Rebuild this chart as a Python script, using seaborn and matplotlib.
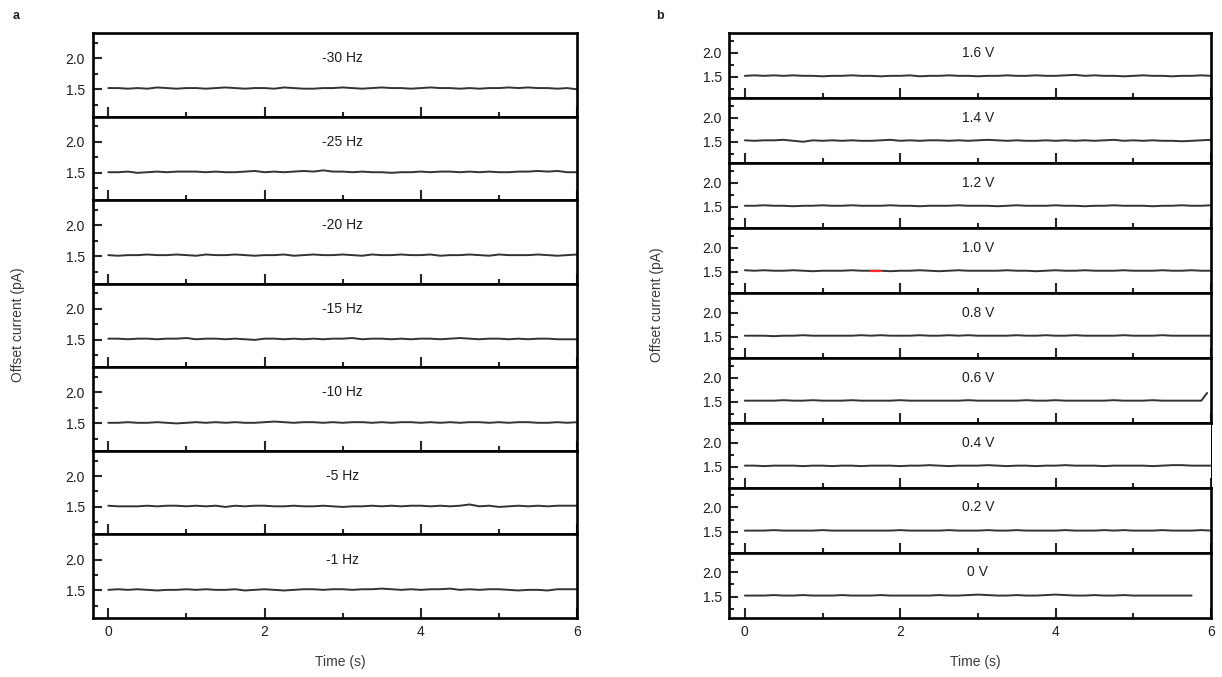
import numpy as np
import pandas as pd
import matplotlib
matplotlib.use("Agg")
import matplotlib.pyplot as plt
from matplotlib.ticker import MultipleLocator
import seaborn as sns

sns.set_theme(style="ticks")
plt.rcParams["font.family"] = ["Liberation Sans", "DejaVu Sans"]

# sampling grid of the recordings (s)
TIME = np.arange(49) * 0.125

# ---- panel a: frequency series ----
freq_labels = ["-30 Hz", "-25 Hz", "-20 Hz", "-15 Hz", "-10 Hz", "-5 Hz", "-1 Hz"]
a_m30 = [1.52,1.52,1.51,1.52,1.51,1.53,1.52,1.51,1.52,1.52,1.51,1.52,1.53,1.52,1.51,1.52,1.52,1.51,1.53,1.52,1.51,1.51,1.52,1.52,1.53,1.52,1.51,1.52,1.53,1.52,1.52,1.51,1.52,1.53,1.52,1.52,1.51,1.52,1.51,1.52,1.52,1.53,1.52,1.53,1.52,1.52,1.51,1.52,1.50]
a_m25 = [1.51,1.51,1.52,1.50,1.51,1.52,1.51,1.52,1.52,1.52,1.51,1.52,1.51,1.51,1.52,1.53,1.51,1.52,1.51,1.52,1.53,1.52,1.54,1.52,1.52,1.51,1.52,1.51,1.51,1.50,1.51,1.51,1.52,1.51,1.52,1.52,1.51,1.52,1.51,1.52,1.51,1.51,1.52,1.52,1.53,1.52,1.53,1.51,1.51]
a_m20 = [1.52,1.51,1.52,1.52,1.53,1.52,1.52,1.53,1.52,1.51,1.53,1.52,1.52,1.53,1.52,1.51,1.52,1.52,1.53,1.51,1.52,1.53,1.52,1.52,1.53,1.52,1.51,1.53,1.52,1.52,1.53,1.52,1.52,1.53,1.51,1.52,1.52,1.53,1.52,1.51,1.53,1.52,1.52,1.52,1.53,1.52,1.51,1.52,1.53]
a_m15 = [1.52,1.52,1.51,1.52,1.52,1.51,1.52,1.52,1.53,1.51,1.52,1.52,1.51,1.52,1.51,1.50,1.52,1.52,1.51,1.52,1.51,1.52,1.51,1.52,1.52,1.53,1.51,1.52,1.52,1.51,1.52,1.51,1.52,1.52,1.51,1.52,1.53,1.52,1.51,1.52,1.52,1.51,1.52,1.51,1.52,1.52,1.51,1.51,1.51]
a_m10 = [1.51,1.51,1.52,1.51,1.51,1.52,1.51,1.50,1.51,1.52,1.51,1.52,1.51,1.52,1.51,1.51,1.52,1.53,1.52,1.51,1.52,1.52,1.51,1.52,1.51,1.52,1.52,1.51,1.52,1.51,1.52,1.52,1.51,1.52,1.51,1.52,1.51,1.52,1.52,1.51,1.52,1.51,1.52,1.52,1.51,1.51,1.52,1.51,1.52]
a_m5 = [1.52,1.51,1.51,1.51,1.52,1.51,1.52,1.52,1.51,1.52,1.51,1.52,1.50,1.52,1.51,1.52,1.52,1.51,1.51,1.52,1.51,1.51,1.52,1.51,1.50,1.51,1.51,1.52,1.51,1.52,1.51,1.52,1.52,1.51,1.52,1.51,1.52,1.54,1.51,1.52,1.50,1.51,1.52,1.51,1.52,1.51,1.52,1.52,1.52]
a_m1 = [1.51,1.52,1.51,1.52,1.51,1.50,1.51,1.51,1.52,1.51,1.52,1.51,1.51,1.52,1.50,1.51,1.52,1.51,1.50,1.51,1.52,1.52,1.51,1.52,1.52,1.51,1.52,1.52,1.53,1.52,1.51,1.52,1.51,1.52,1.52,1.53,1.51,1.52,1.51,1.52,1.52,1.51,1.50,1.51,1.51,1.50,1.52,1.52,1.52]
freq_traces = [a_m30, a_m25, a_m20, a_m15, a_m10, a_m5, a_m1]

# ---- panel b: voltage series ----
volt_labels = ["1.6 V", "1.4 V", "1.2 V", "1.0 V", "0.8 V", "0.6 V", "0.4 V", "0.2 V", "0 V"]
b_16 = [1.52,1.53,1.52,1.53,1.52,1.53,1.52,1.52,1.51,1.52,1.52,1.53,1.52,1.52,1.51,1.52,1.52,1.53,1.51,1.52,1.52,1.53,1.52,1.52,1.51,1.52,1.52,1.53,1.52,1.52,1.53,1.52,1.52,1.53,1.54,1.52,1.53,1.52,1.52,1.51,1.52,1.53,1.52,1.52,1.51,1.52,1.52,1.53,1.52]
b_14 = [1.53,1.52,1.53,1.53,1.54,1.52,1.50,1.53,1.52,1.53,1.52,1.53,1.52,1.52,1.53,1.54,1.52,1.53,1.52,1.53,1.53,1.52,1.53,1.52,1.53,1.54,1.53,1.52,1.53,1.52,1.52,1.53,1.52,1.53,1.52,1.53,1.52,1.53,1.54,1.52,1.53,1.52,1.53,1.52,1.52,1.51,1.52,1.53,1.54]
b_12 = [1.52,1.52,1.53,1.52,1.52,1.51,1.52,1.52,1.53,1.52,1.52,1.53,1.52,1.52,1.52,1.53,1.52,1.52,1.51,1.52,1.52,1.52,1.53,1.52,1.52,1.52,1.51,1.52,1.53,1.52,1.52,1.52,1.53,1.52,1.52,1.51,1.52,1.52,1.53,1.52,1.52,1.52,1.51,1.52,1.52,1.53,1.52,1.52,1.53]
b_10 = [1.53,1.52,1.53,1.52,1.52,1.53,1.52,1.51,1.52,1.52,1.52,1.53,1.52,1.52,1.52,1.51,1.52,1.52,1.53,1.52,1.51,1.52,1.53,1.52,1.52,1.52,1.52,1.53,1.52,1.52,1.51,1.52,1.53,1.52,1.52,1.53,1.52,1.52,1.52,1.53,1.52,1.52,1.52,1.53,1.52,1.52,1.53,1.52,1.52]
b_08 = [1.52,1.52,1.52,1.51,1.52,1.52,1.53,1.52,1.52,1.52,1.52,1.52,1.53,1.52,1.53,1.52,1.52,1.52,1.53,1.52,1.52,1.53,1.52,1.53,1.52,1.52,1.52,1.52,1.53,1.52,1.52,1.53,1.52,1.52,1.53,1.52,1.52,1.52,1.52,1.53,1.52,1.52,1.52,1.53,1.52,1.52,1.52,1.52,1.52]
b_06 = [1.52,1.52,1.52,1.52,1.53,1.52,1.52,1.53,1.52,1.52,1.52,1.53,1.52,1.52,1.52,1.52,1.53,1.52,1.52,1.52,1.52,1.52,1.52,1.53,1.52,1.52,1.52,1.52,1.52,1.53,1.52,1.52,1.53,1.52,1.52,1.52,1.52,1.52,1.53,1.52,1.52,1.52,1.53,1.52,1.52,1.52,1.52,1.52]
b_06_tail_t = [5.95]
b_06_tail_v = [1.68]
b_04 = [1.52,1.52,1.51,1.52,1.52,1.52,1.51,1.52,1.52,1.51,1.52,1.52,1.51,1.52,1.52,1.52,1.51,1.52,1.52,1.53,1.52,1.51,1.52,1.52,1.52,1.53,1.52,1.51,1.52,1.52,1.51,1.52,1.52,1.53,1.52,1.52,1.52,1.51,1.52,1.52,1.52,1.52,1.51,1.52,1.53,1.53,1.52,1.52,1.52]
b_02 = [1.52,1.52,1.52,1.53,1.52,1.52,1.52,1.52,1.53,1.52,1.52,1.52,1.52,1.52,1.52,1.52,1.53,1.52,1.52,1.52,1.52,1.53,1.52,1.52,1.52,1.53,1.52,1.52,1.53,1.52,1.52,1.52,1.52,1.53,1.52,1.52,1.52,1.53,1.52,1.53,1.52,1.52,1.52,1.53,1.52,1.52,1.52,1.53,1.52]
b_00 = [1.52,1.52,1.52,1.53,1.52,1.52,1.53,1.52,1.52,1.52,1.53,1.52,1.52,1.52,1.53,1.52,1.52,1.52,1.52,1.52,1.53,1.52,1.52,1.53,1.54,1.53,1.52,1.52,1.53,1.52,1.52,1.53,1.54,1.53,1.52,1.52,1.53,1.52,1.52,1.53,1.52,1.52,1.52,1.52,1.52,1.52,1.52]
volt_traces = [b_16, b_14, b_12, b_10, b_08, b_06, b_04, b_02, b_00]

# highlighted stretch of the 1.0 V trace (sample indices)
RED_START, RED_END = 13, 14

TRACE_COLOR = "#333333"
TEXT_COLOR = "#1f1f1f"
LABEL_COLOR = "#3a3a3a"


def style_axis(ax, show_xlabels):
    ax.set_xlim(-0.2, 6.0)
    ax.set_ylim(1.06, 2.41)
    ax.set_yticks([1.5, 2.0])
    ax.set_yticklabels(["1.5", "2.0"])
    ax.yaxis.set_minor_locator(MultipleLocator(0.25))
    ax.set_xticks([0, 2, 4, 6])
    ax.xaxis.set_minor_locator(MultipleLocator(1))
    ax.tick_params(axis="x", which="major", direction="in", length=7.2, width=1.5,
                   bottom=True, top=False, labelbottom=show_xlabels,
                   labelsize=10, labelcolor=TEXT_COLOR, pad=5)
    ax.tick_params(axis="x", which="minor", direction="in", length=3.6, width=1.5,
                   bottom=True, top=False)
    ax.tick_params(axis="y", which="major", direction="in", length=6.5, width=1.5,
                   left=True, right=False, labelsize=10, labelcolor=TEXT_COLOR, pad=5.5)
    ax.tick_params(axis="y", which="minor", direction="in", length=3.6, width=1.5,
                   left=True, right=False)
    for sp in ax.spines.values():
        sp.set_visible(True)
        sp.set_linewidth(1.9)
        sp.set_color("black")
    ax.set_xlabel("")
    ax.set_ylabel("")
    ax.grid(False)


def draw_trace(ax, t, v):
    df = pd.DataFrame({"t": t, "v": v})
    sns.lineplot(data=df, x="t", y="v", ax=ax, color=TRACE_COLOR, linewidth=1.4,
                 estimator=None, sort=False)


fig = plt.figure(figsize=(12.22, 6.77), dpi=100)
fig.patch.set_facecolor("white")

top, bottom = 1 - 33 / 677, 1 - 617.7 / 677
gs_a = fig.add_gridspec(len(freq_traces), 1, left=92.7 / 1222, right=577 / 1222,
                        top=top, bottom=bottom, hspace=0)
gs_b = fig.add_gridspec(len(volt_traces), 1, left=729.3 / 1222, right=1211 / 1222,
                        top=top, bottom=bottom, hspace=0)

for i, (lab, vals) in enumerate(zip(freq_labels, freq_traces)):
    ax = fig.add_subplot(gs_a[i, 0])
    draw_trace(ax, TIME[:len(vals)], vals)
    style_axis(ax, i == len(freq_traces) - 1)
    ax.text(3.0, 2.0, lab, ha="center", va="center", fontsize=10, color=TEXT_COLOR)

for i, (lab, vals) in enumerate(zip(volt_labels, volt_traces)):
    ax = fig.add_subplot(gs_b[i, 0])
    t = list(TIME[:len(vals)])
    v = list(vals)
    if lab == "0.6 V":
        t += b_06_tail_t
        v += b_06_tail_v
    draw_trace(ax, t, v)
    if lab == "1.0 V":
        ax.plot(t[RED_START:RED_END + 1], v[RED_START:RED_END + 1],
                color="#ff2a2a", linewidth=1.6, zorder=5)
    style_axis(ax, i == len(volt_traces) - 1)
    if lab == "0.4 V":
        ax.spines["right"].set_linewidth(0.7)
    ax.text(3.0, 2.0, lab, ha="center", va="center", fontsize=10, color=TEXT_COLOR)

# axis titles and panel letters
fig.text(18 / 1222, 1 - 325 / 677, "Offset current (pA)", rotation=90, ha="center",
         va="center", fontsize=10, color=LABEL_COLOR)
fig.text(657 / 1222, 1 - 305 / 677, "Offset current (pA)", rotation=90, ha="center",
         va="center", fontsize=10, color=LABEL_COLOR)
fig.text(340 / 1222, 1 - 662 / 677, "Time (s)", ha="center", va="center",
         fontsize=10, color=LABEL_COLOR)
fig.text(975 / 1222, 1 - 662 / 677, "Time (s)", ha="center", va="center",
         fontsize=10, color=LABEL_COLOR)
fig.text(16 / 1222, 1 - 16 / 677, "a", ha="center", va="center", fontsize=9,
         fontweight="bold", color=TEXT_COLOR)
fig.text(660 / 1222, 1 - 16 / 677, "b", ha="center", va="center", fontsize=9,
         fontweight="bold", color=TEXT_COLOR)

fig.savefig("out.png", dpi=100, facecolor="white")
